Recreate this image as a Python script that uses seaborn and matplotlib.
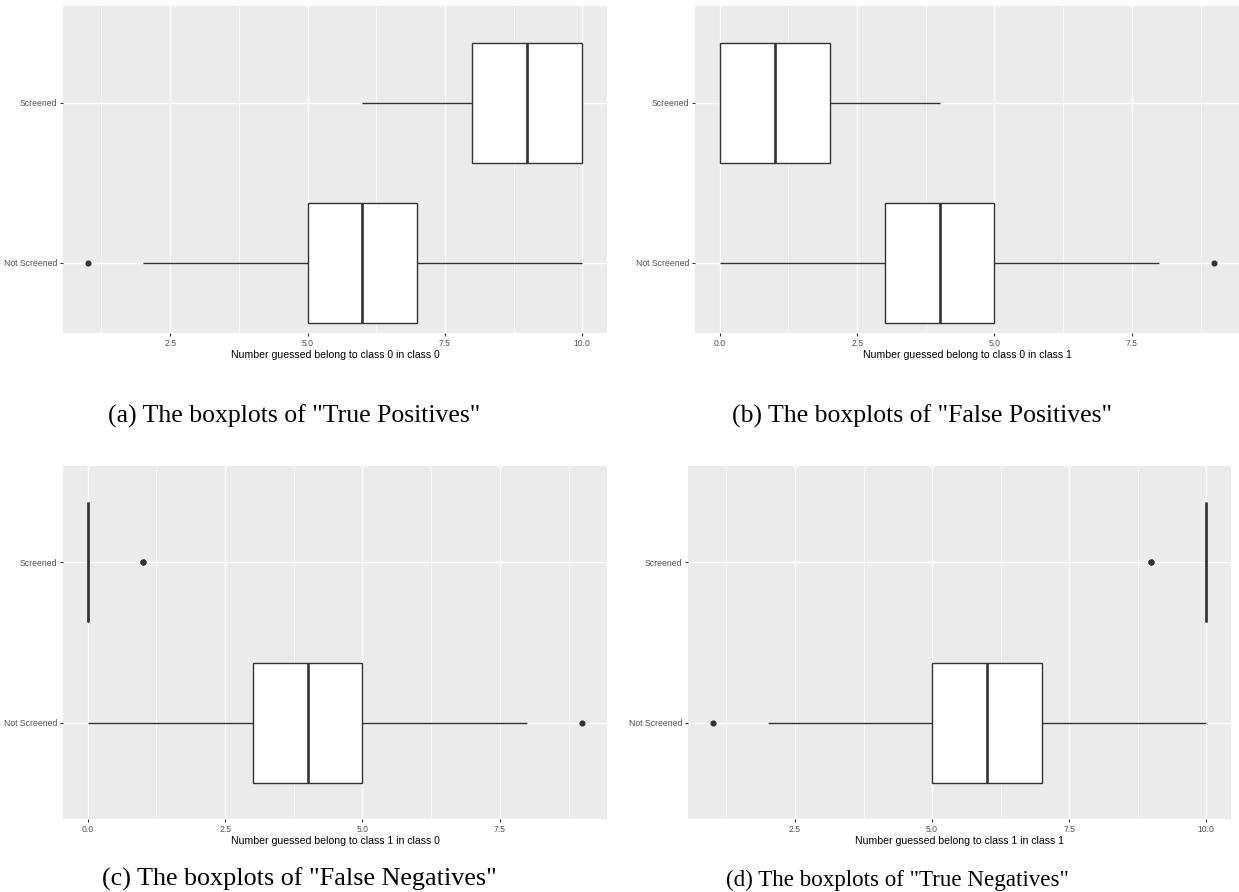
import matplotlib
matplotlib.use("Agg")
import matplotlib.pyplot as plt
import numpy as np
import pandas as pd
import seaborn as sns

# Counts per run (each class holds 10 items)
groups = ["Screened", "Not Screened"]

tp_screened = [6, 7, 7, 8, 8, 8, 8, 8, 9, 9, 9, 9, 9, 9, 10, 10, 10, 10, 10, 10]
tp_not_screened = [1, 2, 3, 4, 5, 5, 5, 5, 6, 6, 6, 6, 6, 7, 7, 7, 7, 8, 9, 10]

fp_screened = [0, 0, 0, 0, 0, 0, 1, 1, 1, 1, 1, 1, 2, 2, 2, 2, 2, 3, 3, 4]
fp_not_screened = [0, 1, 2, 3, 3, 3, 3, 4, 4, 4, 4, 4, 5, 5, 5, 5, 6, 7, 8, 9]

fn_screened = [0, 0, 0, 0, 0, 0, 0, 0, 0, 0, 0, 0, 0, 0, 0, 0, 0, 0, 1, 1]
fn_not_screened = [0, 1, 2, 3, 3, 3, 3, 4, 4, 4, 4, 4, 5, 5, 5, 5, 6, 7, 8, 9]

tn_screened = [9, 9, 10, 10, 10, 10, 10, 10, 10, 10, 10, 10, 10, 10, 10, 10, 10, 10, 10, 10]
tn_not_screened = [1, 2, 3, 4, 5, 5, 5, 5, 6, 6, 6, 6, 6, 7, 7, 7, 7, 8, 9, 10]

x_titles = [
    "Number guessed belong to class 0 in class 0",
    "Number guessed belong to class 0 in class 1",
    "Number guessed belong to class 1 in class 0",
    "Number guessed belong to class 1 in class 1",
]
captions = [
    '(a) The boxplots of "True Positives"',
    '(b) The boxplots of "False Positives"',
    '(c) The boxplots of "False Negatives"',
    '(d) The boxplots of "True Negatives"',
]
tick_sets = [
    [2.5, 5.0, 7.5, 10.0],
    [0.0, 2.5, 5.0, 7.5],
    [0.0, 2.5, 5.0, 7.5],
    [2.5, 5.0, 7.5, 10.0],
]
minor_ticks = [1.25, 3.75, 6.25, 8.75]
panel_data = [
    (tp_screened, tp_not_screened),
    (fp_screened, fp_not_screened),
    (fn_screened, fn_not_screened),
    (tn_screened, tn_not_screened),
]

sns.set_theme(style="darkgrid", rc={
    "axes.facecolor": "#EBEBEB",
    "grid.color": "white",
    "axes.edgecolor": "#EBEBEB",
})
plt.rcParams["font.family"] = ["Liberation Sans", "DejaVu Sans"]

W, H = 1239, 892
fig = plt.figure(figsize=(W / 100, H / 100), dpi=100)
fig.patch.set_facecolor("white")

# panel boxes in pixels: left, right, top, bottom, and y-limits (bottom, top)
boxes = [
    (63, 607, 6, 333, (1.44, -0.606)),
    (695, 1239, 6, 333, (1.44, -0.606)),
    (63, 607, 466, 819, (1.6, -0.6)),
    (688, 1231, 466, 819, (1.6, -0.6)),
]
# caption centre x, baseline y, font size
caption_pos = [(294, 423, 18.5), (922, 423, 18.5), (299, 886, 18.8), (897, 886, 16.6)]

for i, (l, r, t, b, ylim) in enumerate(boxes):
    ax = fig.add_axes([l / W, 1 - b / H, (r - l) / W, (b - t) / H])
    scr, nscr = panel_data[i]
    df = pd.DataFrame({
        "count": list(scr) + list(nscr),
        "group": [groups[0]] * len(scr) + [groups[1]] * len(nscr),
    })
    sns.boxplot(
        data=df, x="count", y="group", order=groups, orient="h",
        width=0.75, color="white", saturation=1, linecolor="#333333",
        linewidth=1.0, showcaps=False, whis=1.5,
        flierprops=dict(marker="o", markersize=3.4,
                        markerfacecolor="#333333", markeredgecolor="#333333"),
        medianprops=dict(linewidth=1.9, color="#333333"),
        ax=ax,
    )
    allv = list(scr) + list(nscr)
    lo, hi = min(allv), max(allv)
    pad = (hi - lo) * 0.05
    ax.set_xlim(lo - pad, hi + pad)
    ax.set_ylim(*ylim)
    ax.set_xticks(tick_sets[i])
    ax.set_xticklabels([f"{v:.1f}" for v in tick_sets[i]])
    ax.set_xticks(minor_ticks, minor=True)
    ax.grid(True, which="major", axis="both", color="white", linewidth=1.0)
    ax.grid(True, which="minor", axis="x", color="white", linewidth=0.5)
    ax.set_axisbelow(True)
    for s in ax.spines.values():
        s.set_visible(False)
    ax.tick_params(axis="both", which="major", length=2.5, width=0.8,
                   color="#333333", labelsize=6.2, labelcolor="#4D4D4D", pad=1.5,
                   bottom=True, left=True)
    ax.tick_params(axis="x", which="minor", length=0)
    ax.set_ylabel("")
    ax.set_xlabel(x_titles[i], fontsize=7.6, color="black", labelpad=1.5)
    cx, cy, fs = caption_pos[i]
    fig.text(cx / W, 1 - cy / H, captions[i], ha="center", va="baseline",
             fontsize=fs, family=["Liberation Serif", "DejaVu Serif"], color="black")

fig.savefig("out.png", dpi=100, facecolor="white")
